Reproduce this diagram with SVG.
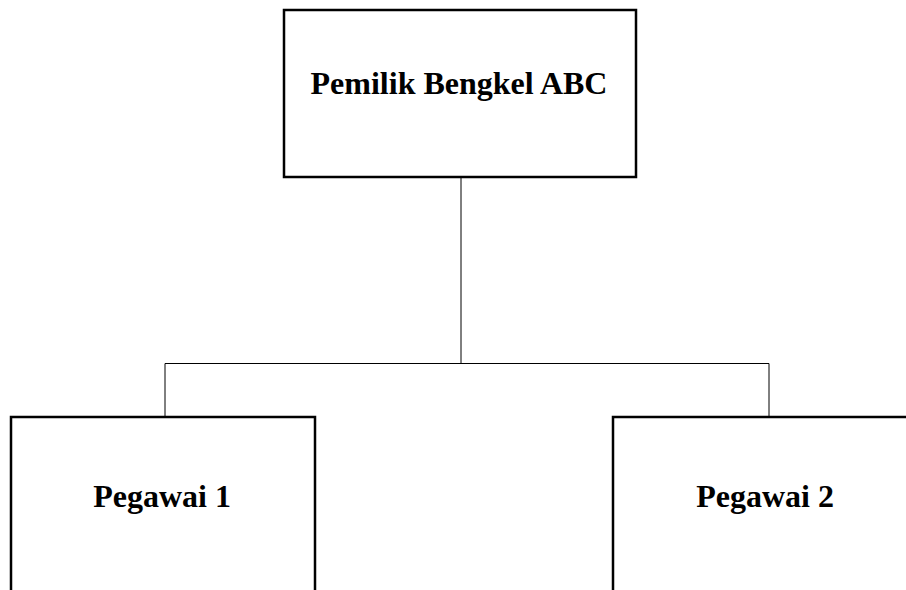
<svg xmlns="http://www.w3.org/2000/svg" width="906" height="590" viewBox="0 0 906 590">
<style>
.box{fill:#fff;stroke:#000;stroke-width:2.5}
.lbl{font-family:"Liberation Serif","Times New Roman",serif;font-weight:bold;font-size:32px;fill:#000;text-anchor:middle}
.conn{fill:none;stroke:#000;stroke-width:1}
</style>
<rect width="906" height="590" fill="#fff"/>
<g id="connectors">
<path class="conn" d="M461 177V363.5"/>
<path class="conn" d="M165 363.5H769"/>
<path class="conn" d="M165 363.5V417"/>
<path class="conn" d="M769 363.5V417"/>
</g>
<g id="owner">
<rect class="box" x="284" y="10" width="352" height="167"/>
<text class="lbl" x="459" y="94">Pemilik Bengkel ABC</text>
</g>
<g id="pegawai1">
<rect class="box" x="11" y="417" width="304" height="200"/>
<text class="lbl" x="162" y="507">Pegawai 1</text>
</g>
<g id="pegawai2">
<rect class="box" x="613" y="417" width="312" height="200"/>
<text class="lbl" x="765" y="507">Pegawai 2</text>
</g>
</svg>
